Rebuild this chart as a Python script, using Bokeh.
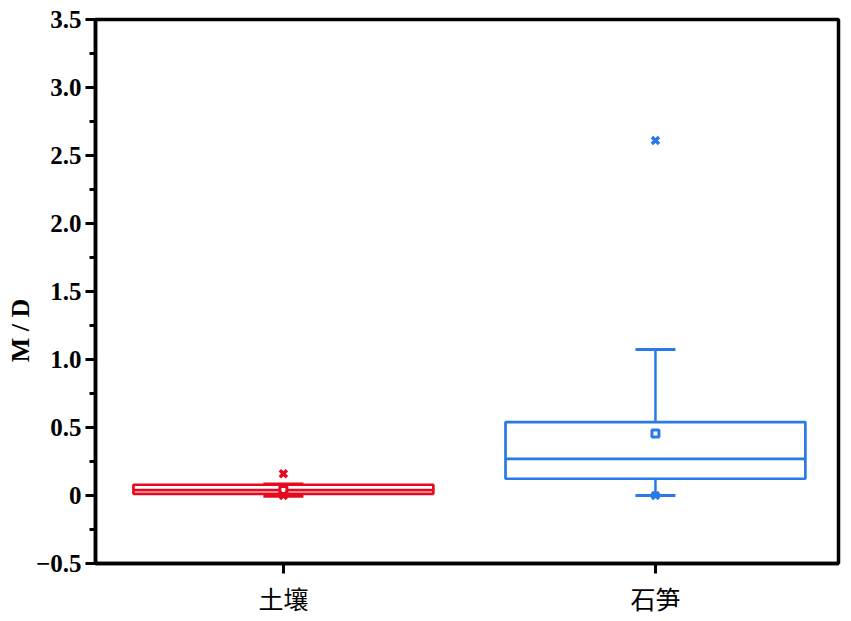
from bokeh.plotting import figure
from bokeh.models import FixedTicker, CustomJSTickFormatter, Range1d, ColumnDataSource
from bokeh.embed import file_html
from bokeh.resources import INLINE

# ---- data ----
categories = ["土壤", "石笋"]
positions = [1, 2]
q1 = [0.012, 0.123]
q3 = [0.079, 0.54]
median = [0.04, 0.27]
mean = [0.04, 0.455]
whisker_low = [-0.005, 0.0]
whisker_high = [0.085, 1.073]
data_max = [0.16, 2.61]
data_min = [0.0, 0.0]
colors = ["#E60A20", "#2979E6"]

y_ticks = [-0.5, 0.0, 0.5, 1.0, 1.5, 2.0, 2.5, 3.0, 3.5]
y_minor = [-0.25, 0.25, 0.75, 1.25, 1.75, 2.25, 2.75, 3.25]
y_title = "M / D"

p = figure(width=843, height=620, output_backend="svg", toolbar_location=None,
           x_range=Range1d(0.495, 2.492), y_range=Range1d(-0.5, 3.5),
           min_border_left=95, min_border_right=5, min_border_top=19, min_border_bottom=57)

p.xgrid.visible = False
p.ygrid.visible = False
p.outline_line_color = "black"
p.outline_line_width = 3.5
p.outline_line_alpha = 1

src = ColumnDataSource(dict(x=positions, q1=q1, q3=q3, med=median, mean=mean,
                            lo=whisker_low, hi=whisker_high, mx=data_max, mn=data_min,
                            c=colors))

# whiskers
p.segment(x0="x", y0="q3", x1="x", y1="hi", color="c", line_width=2.5, source=src)
p.segment(x0="x", y0="lo", x1="x", y1="q1", color="c", line_width=2.5, source=src)
p.scatter(x="x", y="hi", marker="dash", size=40, line_color="c", line_width=3, source=src)
p.scatter(x="x", y="lo", marker="dash", size=40, line_color="c", line_width=3, source=src)
# box
p.vbar(x="x", width=0.806, bottom="q1", top="q3", fill_color="white", fill_alpha=0,
       line_color="c", line_width=2.7, source=src)
# median
p.vbar(x="x", width=0.806, bottom="med", top="med", fill_alpha=0,
       line_color="c", line_width=2.7, source=src)
# mean
p.scatter(x="x", y="mean", marker="square", size=7, line_color="c", fill_color="white",
          line_width=3, source=src)
# max / min
p.scatter(x="x", y="mx", marker="x", size=10, line_color="c", line_width=3.5, source=src)
p.scatter(x="x", y="mn", marker="x", size=10, line_color="c", line_width=3.5, source=src)

# y axis
ya = p.yaxis[0]
ya.ticker = FixedTicker(ticks=y_ticks, minor_ticks=y_minor)
ya.formatter = CustomJSTickFormatter(code="""
    if (Math.abs(tick) < 1e-9) return "0";
    if (tick < 0) return "\u2212" + Math.abs(tick).toFixed(1);
    return tick.toFixed(1);
""")
# trailing no-break spaces shift the title slightly downward like the original
ya.axis_label = y_title + "\u00a0" * 12
ya.axis_label_text_font = "Liberation Serif"
ya.axis_label_text_font_style = "bold"
ya.axis_label_text_font_size = "26px"
ya.axis_label_text_color = "black"
ya.axis_label_standoff = -2
ya.major_label_text_font = "Liberation Serif"
ya.major_label_text_font_style = "bold"
ya.major_label_text_font_size = "25px"
ya.major_label_text_color = "black"
ya.major_label_standoff = 4
ya.major_tick_in = 0
ya.major_tick_out = 10
ya.minor_tick_in = 0
ya.minor_tick_out = 6
ya.major_tick_line_width = 3
ya.minor_tick_line_width = 3
ya.axis_line_width = 3.5

# x axis
xa = p.xaxis[0]
xa.ticker = FixedTicker(ticks=positions, minor_ticks=[])
xa.formatter = CustomJSTickFormatter(args=dict(labels=categories, pos=positions), code="""
    const i = pos.indexOf(Math.round(tick));
    return i >= 0 ? labels[i] : "";
""")
xa.major_label_text_font = "Noto Sans CJK SC"
xa.major_label_text_font_style = "normal"
xa.major_label_text_font_size = "25px"
xa.major_label_text_color = "black"
xa.major_label_standoff = 6
xa.major_tick_in = 0
xa.major_tick_out = 10
xa.minor_tick_out = 0
xa.major_tick_line_width = 3
xa.axis_line_width = 3.5

open("out.html", "w").write(file_html(p, INLINE))
